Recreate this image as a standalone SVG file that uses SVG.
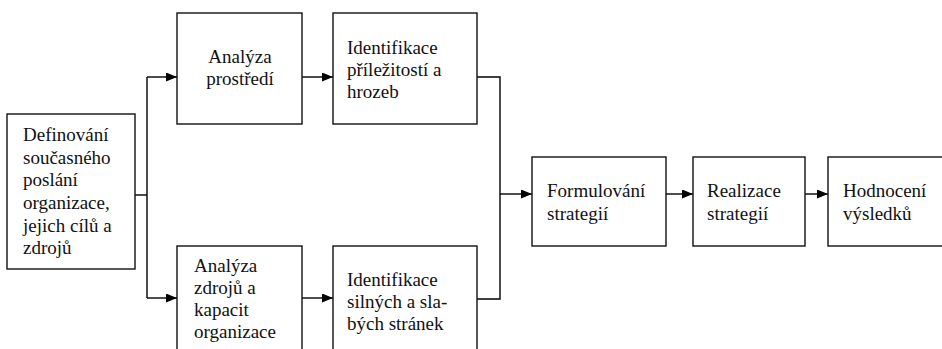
<svg xmlns="http://www.w3.org/2000/svg" width="942" height="349" viewBox="0 0 942 349">
<defs>
<marker id="ah" markerUnits="userSpaceOnUse" markerWidth="11" markerHeight="9" refX="11" refY="4.5" orient="auto">
<path d="M0,0 L11,4.5 L0,9 z" fill="#000"/>
</marker>
<style>
.box{fill:#fff;stroke:#111;stroke-width:1.4}
.t{font-family:'Liberation Serif','DejaVu Serif',serif;font-size:19px;fill:#111}
.c{text-anchor:middle}
.ln{fill:none;stroke:#000;stroke-width:1.4}
</style>
</defs>
<rect width="942" height="349" fill="#fff"/>
<g id="connectors">
<path class="ln" d="M135,195 H147"/>
<path class="ln" d="M147,77 V298"/>
<path class="ln" d="M147,77 H177" marker-end="url(#ah)"/>
<path class="ln" d="M147,298 H177" marker-end="url(#ah)"/>
<path class="ln" d="M302,77 H333" marker-end="url(#ah)"/>
<path class="ln" d="M302,298 H333" marker-end="url(#ah)"/>
<path class="ln" d="M477,77 H500 V299 H477"/>
<path class="ln" d="M500,194 H532" marker-end="url(#ah)"/>
<path class="ln" d="M666,194 H693" marker-end="url(#ah)"/>
<path class="ln" d="M805,194 H828" marker-end="url(#ah)"/>
</g>
<g id="definovani">
<rect class="box" x="7" y="114" width="128" height="155"/>
<text class="t" font-family="Liberation Serif" x="23" y="141">Definování</text>
<text class="t" x="23" y="164">současného</text>
<text class="t" x="23" y="186">poslání</text>
<text class="t" x="23" y="209">organizace,</text>
<text class="t" x="23" y="232">jejich cílů a</text>
<text class="t" x="23" y="254">zdrojů</text>
</g>
<g id="analyza-prostredi">
<rect class="box" x="177" y="13" width="125" height="111"/>
<text class="t c" x="240" y="63">Analýza</text>
<text class="t c" x="240" y="85">prostředí</text>
</g>
<g id="identifikace-prilezitosti">
<rect class="box" x="333" y="13" width="144" height="111"/>
<text class="t" x="347" y="54">Identifikace</text>
<text class="t" x="347" y="76">příležitostí a</text>
<text class="t" x="347" y="98">hrozeb</text>
</g>
<g id="analyza-zdroju">
<rect class="box" x="177" y="246" width="125" height="110"/>
<text class="t" x="194" y="272">Analýza</text>
<text class="t" x="194" y="294">zdrojů a</text>
<text class="t" x="194" y="316">kapacit</text>
<text class="t" x="194" y="338">organizace</text>
</g>
<g id="identifikace-silnych">
<rect class="box" x="333" y="246" width="144" height="110"/>
<text class="t" x="347" y="286">Identifikace</text>
<text class="t" x="347" y="308">silných a sla-</text>
<text class="t" x="347" y="330">bých stránek</text>
</g>
<g id="formulovani">
<rect class="box" x="532" y="157" width="134" height="89"/>
<text class="t" x="547" y="197">Formulování</text>
<text class="t" x="547" y="220">strategií</text>
</g>
<g id="realizace">
<rect class="box" x="693" y="157" width="112" height="89"/>
<text class="t" x="707" y="197">Realizace</text>
<text class="t" x="707" y="220">strategií</text>
</g>
<g id="hodnoceni">
<rect class="box" x="828" y="157" width="120" height="89"/>
<text class="t" x="843" y="197">Hodnocení</text>
<text class="t" x="843" y="220">výsledků</text>
</g>
</svg>
